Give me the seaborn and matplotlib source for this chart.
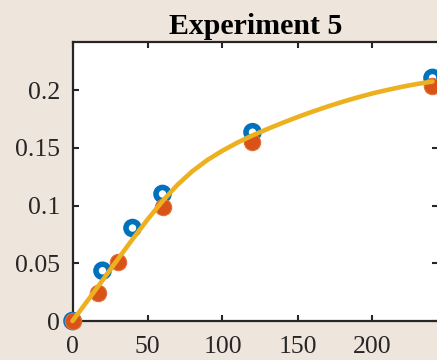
import matplotlib
matplotlib.use("Agg")
import matplotlib.pyplot as plt
import seaborn as sns
import pandas as pd

# Measured data (two replicate series) and the fitted curve
t_a = [0, 20, 40, 60, 120, 240]
y_a = [0.0, 0.0435, 0.0805, 0.110, 0.1635, 0.2105]

t_b = [0, 17, 30, 60, 120, 240]
y_b = [0.0, 0.0240, 0.0515, 0.0990, 0.1550, 0.2035]

t_fit = [0, 10, 20, 30, 40, 50, 60, 70, 80, 90, 100, 110, 120,
         130, 140, 150, 160, 170, 180, 190, 200, 210, 220, 230, 240]
y_fit = [0.0, 0.0175, 0.0352, 0.0531, 0.0708, 0.0878, 0.1038, 0.1180,
         0.1298, 0.1395, 0.1475, 0.1545, 0.1607, 0.1663, 0.1716, 0.1766,
         0.1813, 0.1857, 0.1898, 0.1936, 0.1971, 0.2001, 0.2029, 0.2053,
         0.2074]

x_ticks = [0, 50, 100, 150, 200]
y_ticks = [0, 0.05, 0.1, 0.15, 0.2]
y_tick_labels = ["0", "0.05", "0.1", "0.15", "0.2"]
title = "Experiment 5"

sns.set_theme(style="white")
plt.rcParams["font.family"] = ["Liberation Serif", "DejaVu Serif"]

bg = "#EEE5DC"
ink = "#262626"

fig = plt.figure(figsize=(4.37, 3.60), dpi=100, facecolor=bg)
ax = fig.add_axes([72.5 / 437, 39 / 360, (438.5 - 72.5) / 437, (321 - 42) / 360])
ax.set_facecolor("white")

df_a = pd.DataFrame({"t": t_a, "y": y_a})
df_b = pd.DataFrame({"t": t_b, "y": y_b})
df_fit = pd.DataFrame({"t": t_fit, "y": y_fit})

sns.scatterplot(data=df_a, x="t", y="y", ax=ax, marker="o", s=9.4 ** 2,
                facecolors="none", edgecolor="#0072BD", linewidth=4.0,
                clip_on=False, zorder=3)
sns.scatterplot(data=df_b, x="t", y="y", ax=ax, marker="o", s=11.8 ** 2,
                color="#D95319", edgecolor="#E0703F", linewidth=0.8,
                clip_on=False, zorder=4)
sns.lineplot(data=df_fit, x="t", y="y", ax=ax, color="#EDB120",
             linewidth=3.3, zorder=5, clip_on=False)

ax.set_xlim(0, 244)
ax.set_ylim(0, 0.2416)
ax.set_xticks(x_ticks)
ax.set_yticks(y_ticks)
ax.set_yticklabels(y_tick_labels)
ax.set_xlabel("")
ax.set_ylabel("")

for side in ["left", "bottom", "top", "right"]:
    ax.spines[side].set_visible(True)
    ax.spines[side].set_color(ink)
    ax.spines[side].set_linewidth(1.6)

ax.tick_params(axis="both", which="both", direction="in", length=4.5,
               width=1.5, color=ink, labelcolor=ink, labelsize=18.5,
               top=True, right=True, left=True, bottom=True)
ax.tick_params(axis="y", pad=9)
ax.tick_params(axis="x", pad=11)

ax.set_title(title, fontsize=21.5, fontweight="bold", color="black", pad=6)

fig.savefig("out.png", dpi=100, facecolor=bg)
